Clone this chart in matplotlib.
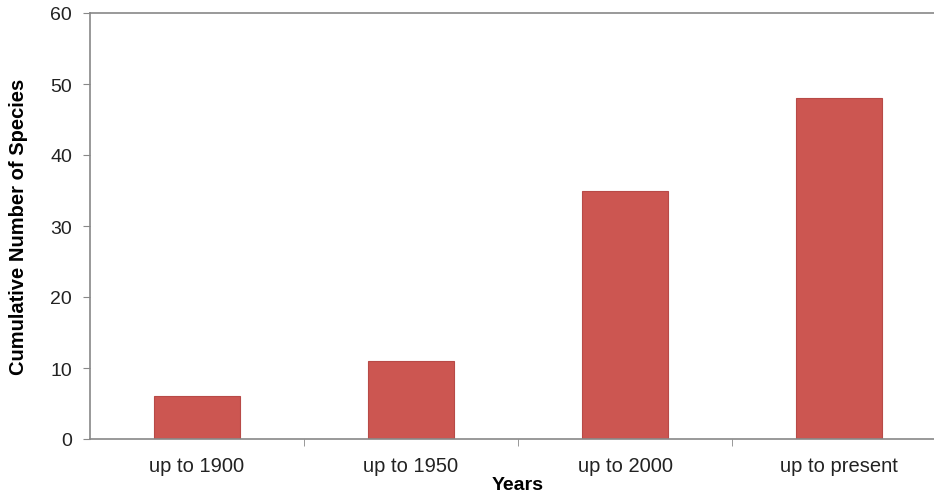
import matplotlib
matplotlib.use('Agg')
import matplotlib.pyplot as plt
import numpy as np

categories = ['up to 1900', 'up to 1950', 'up to 2000', 'up to present']
species = [6, 11, 35, 48]
y_ticks = [0, 10, 20, 30, 40, 50, 60]

plt.rcParams['font.family'] = ['Liberation Sans', 'DejaVu Sans']

fig = plt.figure(figsize=(9.34, 5.02), dpi=100)
ax = fig.add_axes([90 / 934, 62 / 502, 856 / 934, 426 / 502])

x = np.arange(len(categories))
ax.bar(x, species, width=0.4, color='#cc5651', edgecolor='#b84a47', linewidth=0.8, zorder=2)

ax.set_xlim(-0.5, len(categories) - 0.5)
ax.set_ylim(0, 60)
ax.set_yticks(y_ticks)
ax.set_xticks(x)
ax.set_xticklabels(categories)
ax.set_xticks(x[:-1] + 0.5, minor=True)

ax.tick_params(axis='x', which='major', length=0, pad=12, labelsize=14.5, colors='#222222')
ax.tick_params(axis='x', which='minor', length=5, color='#888888', direction='out')
ax.tick_params(axis='y', length=5, color='#888888', pad=8, labelsize=14, labelcolor='#222222')

for side in ['left', 'bottom', 'top']:
    ax.spines[side].set_color('#888888')
    ax.spines[side].set_linewidth(1.2)
ax.spines['right'].set_visible(False)

ax.set_ylabel('Cumulative Number of Species', fontsize=14.5, fontweight='bold', labelpad=16)
ax.set_xlabel('Years', fontsize=14, fontweight='bold', labelpad=1)

fig.savefig('out.png', dpi=100)
